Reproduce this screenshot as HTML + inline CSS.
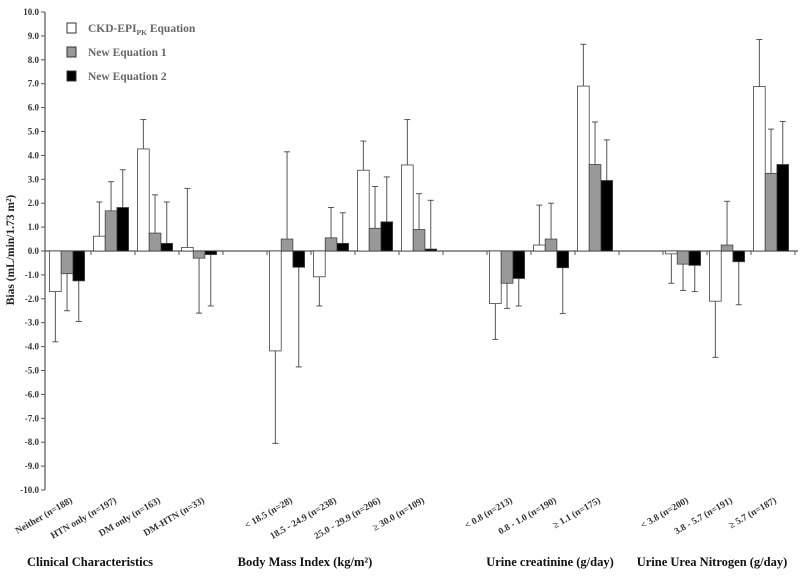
<!DOCTYPE html>
<html><head><meta charset="utf-8"><style>
html,body{margin:0;padding:0;background:#fff;}
svg{display:block;font-family:"Liberation Serif",serif;}
</style></head><body>
<svg id="chart" width="800" height="576" viewBox="0 0 800 576"></svg>
<script>
const categories=["Neither (n=188)","HTN only (n=197)","DM only (n=163)","DM-HTN (n=33)","","< 18.5 (n=28)","18.5 - 24.9 (n=238)","25.0 - 29.9 (n=206)","≥ 30.0 (n=109)","","< 0.8 (n=213)","0.8 - 1.0 (n=190)","≥ 1.1 (n=175)","","< 3.8 (n=200)","3.8 - 5.7 (n=191)","≥ 5.7 (n=187)"];
const ckdValues=[-1.7,0.62,4.27,0.15,null,-4.18,-1.08,3.38,3.6,null,-2.2,0.25,6.9,null,-0.12,-2.1,6.88];
const ckdErr=[-3.8,2.05,5.5,2.62,null,-8.05,-2.3,4.6,5.5,null,-3.7,1.92,8.65,null,-1.35,-4.45,8.85];
const eq1Values=[-0.95,1.68,0.75,-0.3,null,0.5,0.55,0.95,0.9,null,-1.35,0.5,3.62,null,-0.55,0.25,3.25];
const eq1Err=[-2.5,2.9,2.35,-2.6,null,4.15,1.82,2.7,2.4,null,-2.4,2.0,5.4,null,-1.65,2.08,5.1];
const eq2Values=[-1.25,1.82,0.32,-0.15,null,-0.68,0.32,1.22,0.08,null,-1.15,-0.7,2.95,null,-0.6,-0.45,3.62];
const eq2Err=[-2.95,3.4,2.05,-2.3,null,-4.85,1.6,3.1,2.12,null,-2.3,-2.62,4.65,null,-1.7,-2.25,5.42];
const yTicks=[10,9,8,7,6,5,4,3,2,1,0,-1,-2,-3,-4,-5,-6,-7,-8,-9,-10];
const groupTitles=["Clinical Characteristics","Body Mass Index  (kg/m²)","Urine creatinine (g/day)","Urine Urea  Nitrogen (g/day)"];
const groupCenters=[90,305,550,712];

const NS="http://www.w3.org/2000/svg";
const svg=document.getElementById('chart');
const X0=47,SW=44,AX=45;
const y=v=>251-v*23.9;
const slotX=i=>X0+i*SW;
function mk(t,a,p){const e=document.createElementNS(NS,t);for(const k in a)e.setAttribute(k,a[k]);(p||svg).appendChild(e);return e;}

const yAxis=mk('line',{x1:AX,y1:y(10),x2:AX,y2:y(-10),stroke:'#555','stroke-width':1.2});


yTicks.forEach(v=>{
  const t=mk('line',{x1:AX-4,y1:y(v),x2:AX,y2:y(v),stroke:'#555'});
  
  
  const l=mk('text',{x:AX-6,y:y(v)+3,'text-anchor':'end','font-size':9,'font-weight':'bold',fill:'#333'});
  l.textContent=v.toFixed(1);
  
  
});
const xAxis=mk('line',{x1:AX,y1:y(0),x2:798,y2:y(0),stroke:'#555','stroke-width':1.2});


for(let i=1;i<=categories.length;i++){
  const t=mk('line',{x1:slotX(i),y1:y(0),x2:slotX(i),y2:y(0)+4,stroke:'#555'});
  
  
}
const series=[[ckdValues,ckdErr,'#fff'],[eq1Values,eq1Err,'#999'],[eq2Values,eq2Err,'#000']];
categories.forEach((c,i)=>{
  series.forEach((s,j)=>{
    const v=s[0][i];if(v===null)return;
    const bx=slotX(i)+2.5+j*11.7,bw=11.7;
    const e=s[1][i],cx=bx+bw/2;
    const el=mk('line',{x1:cx,y1:y(v),x2:cx,y2:y(e),stroke:'#555','stroke-width':1});
    
    
    const cap=mk('line',{x1:cx-3,y1:y(e),x2:cx+3,y2:y(e),stroke:'#555','stroke-width':1});
    
    
    const r=mk('rect',{x:bx,y:Math.min(y(v),y(0)),width:bw,height:Math.abs(y(v)-y(0)),fill:s[2],stroke:'#444','stroke-width':0.8});
    
    
  });
  if(c){
    const cx=slotX(i)+SW/2+4;
    const l=mk('text',{x:cx,y:502,'text-anchor':'end','font-size':9.5,'font-weight':'bold',fill:'#333',transform:`rotate(-30 ${cx} 502)`});
    l.textContent=c;
    
    
  }
});
groupTitles.forEach((g,i)=>{
  const t=mk('text',{x:groupCenters[i],y:566,'text-anchor':'middle','font-size':12.5,'font-weight':'bold',fill:'#111'});
  t.textContent=g;
  
  
});
const yt=mk('text',{x:14,y:250,'text-anchor':'middle','font-size':11.5,'font-weight':'bold',fill:'#222',transform:'rotate(-90 14 250)'});
yt.textContent='Bias (mL/min/1.73 m²)';


const legend=[['CKD-EPI','#fff'],['New Equation 1','#999'],['New Equation 2','#000']];
legend.forEach((l,i)=>{
  const r=mk('rect',{x:67,y:23+i*24,width:9,height:10,fill:l[1],stroke:'#333','stroke-width':1});
  
  
  const t=mk('text',{x:88,y:32+i*24,'font-size':11.5,'font-weight':'bold',fill:'#666'});
  
  
  if(i===0){t.innerHTML='CKD-EPI<tspan font-size="7.5" dy="3">PK</tspan><tspan dy="-3"> Equation</tspan>';}
  else t.textContent=l[0];
});
</script>
</body></html>
